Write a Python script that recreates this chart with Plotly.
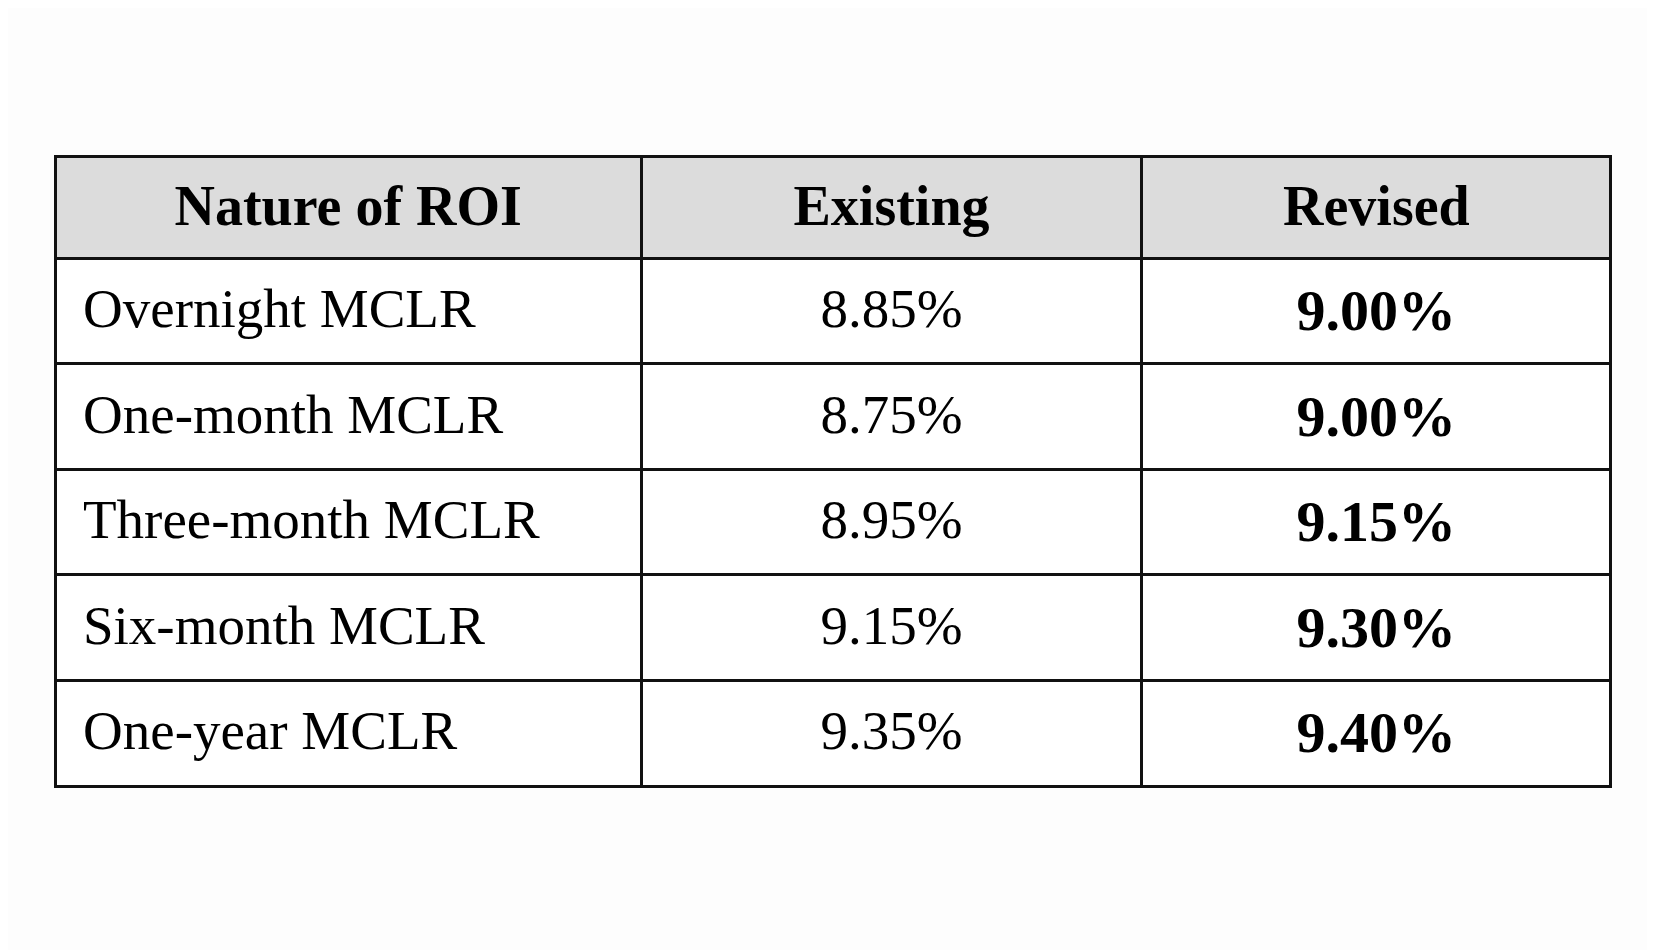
import plotly.graph_objects as go

# table data
header_labels = ["Nature of ROI", "Existing", "Revised"]
rate_types = ["Overnight MCLR", "One-month MCLR", "Three-month MCLR",
              "Six-month MCLR", "One-year MCLR"]
existing = ["8.85%", "8.75%", "8.95%", "9.15%", "9.35%"]
revised = ["9.00%", "9.00%", "9.15%", "9.30%", "9.40%"]

W, H = 1655, 950
OFF = 8  # default body margin of the page


def pad(px):
    # a blank in a bigger font: plotly puts the text box top at the cell top,
    # so a taller blank pushes the real text down towards the cell middle
    return '<span style="font-size:%dpx">&nbsp;</span>' % px


head_txt = [pad(68) + "<b>%s</b>" % h + pad(68) + "<br>" for h in header_labels]
col1 = [pad(68) + '<span style="font-size:12px">&nbsp;</span>' + t + "<br>"
        for t in rate_types]
col2 = [pad(68) + t + pad(68) + "<br>" for t in existing]
col3 = [pad(72) + '<b><span style="font-size:58px">%s</span></b>' % t
        + pad(72) + "<br>" for t in revised]

fig = go.Figure(go.Table(
    columnwidth=[586, 500, 469],
    header=dict(
        values=head_txt,
        fill_color="#dcdcdc",
        line=dict(color="#111111", width=3),
        align="center",
        font=dict(family="Liberation Serif", size=56, color="#000000"),
        height=102,
    ),
    cells=dict(
        values=[col1, col2, col3],
        fill_color="#ffffff",
        line=dict(color="#111111", width=3),
        align=["left", "center", "center"],
        font=dict(family="Liberation Serif", size=55, color="#000000"),
        height=105.6,
    ),
    domain=dict(x=[(55 - OFF) / W, (1611 - OFF) / W],
                y=[0, 1 - (156 - OFF) / H]),
))

fig.update_layout(
    width=W,
    height=H,
    margin=dict(l=0, r=0, t=0, b=0),
    paper_bgcolor="#fdfdfd",
)

fig.write_html("out.html")
